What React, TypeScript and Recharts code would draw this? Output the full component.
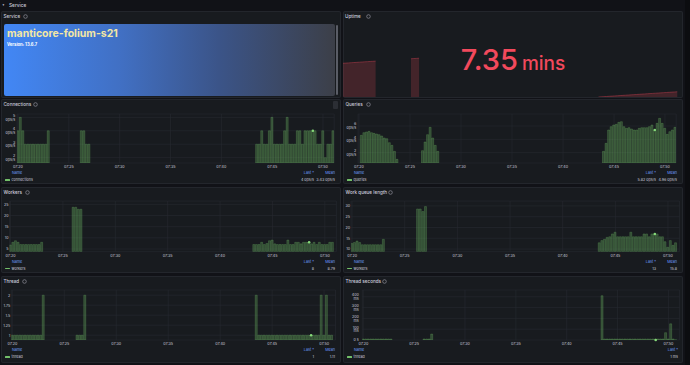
import React from 'react';
import { BarChart, Bar, XAxis, YAxis, CartesianGrid, ReferenceDot, AreaChart, Area } from 'recharts';

// ---------- time grid (minutes after 07:00, 15 s slots) ----------
const SLOT_COUNT = 125;
const FIRST_MINUTE = 20;
const SLOT_MINUTES = 0.25;
const TIME_TICKS = [20, 25, 30, 35, 40, 45, 50];

// ---------- series values (segments: start slot + values) ----------
const connectionsStarts = [0, 25, 94];
const connectionsEarly = [4, 5, 4, 3, 3, 3, 3, 3, 3, 3, 3, 3, 4];
const connectionsMid = [4, 4, 3, 3];
const connectionsLate = [3, 3, 4, 3, 3, 4, 5, 3, 3, 3, 3, 4, 5, 3, 3, 3, 4, 4, 3, 4, 4, 4, 4, 4, 3, 3, 4, 2, 3, 3, 4];

const queriesStarts = [1, 25, 96];
const queriesEarly = [4.6, 5.0, 5.1, 5.2, 5.0, 4.9, 4.8, 4.7, 4.5, 4.2, 4.1, 3.5, 3.1, 2.2, 1.0];
const queriesMid = [2.3, 3.6, 4.7, 5.8, 4.2, 3.1, 2.2];
const queriesLate = [2.2, 3.4, 5.4, 5.9, 6.15, 6.25, 6.55, 6.65, 5.9, 5.65, 5.75, 5.55, 5.4, 5.4, 5.65, 5.75, 5.75, 5.75, 5.9, 6.15, 5.4, 6.4, 7.15, 6.4, 5.65, 4.75, 5.15, 5.4, 5.8];

const workersStarts = [0, 24, 93];
const workersEarly = [6.8, 8, 8.7, 8, 7, 7, 7, 7, 7, 7, 7, 7, 8];
const workersMid = [23.7, 23.7, 22.8, 22.8];
const workersLate = [7, 7, 7, 8, 7, 7.5, 8.7, 9, 7.3, 7, 7, 7, 7, 9, 7, 7, 8, 8, 7.3, 8, 8, 8, 7.3, 8, 7, 8, 7, 7, 7, 8, 8];

const queueStarts = [0, 25, 94];
const queueEarly = [12.6, 13, 13.7, 13, 12, 12, 12, 12, 12, 12, 12, 12, 14.5];
const queueMid = [28.6, 28.6, 27.4, 29.7];
const queueLate = [12.9, 13.9, 14.5, 15.4, 15.7, 17, 17.8, 15.7, 15.7, 15.7, 15.7, 15.7, 17.8, 15.7, 15.7, 15.7, 15.7, 17, 17, 15.7, 17, 17, 17, 15.7, 15.7, 13.4, 10.8, 13.9, 11.7, 12.9];

const threadStarts = [0, 25, 94];
const threadEarly = [1, 1, 1, 1, 1, 1, 1, 1, 1, 1, 1, 1, 2];
const threadMid = [1, 1, 1, 2];
const threadLate = [2, 1, 1, 1, 1, 1, 1, 1, 1, 1, 1, 1, 1, 1, 1, 1, 1, 1, 1, 1, 1, 1, 1, 1, 1, 2, 1, 2, 1, 1];

const threadSecStarts = [0, 24, 94];
const threadSecEarly = [0, 0, 0, 0, 0, 0, 0, 0, 0, 0, 0, 8];
const threadSecMid = [0, 0, 0, 55];
const threadSecLate = [410, 0, 0, 0, 0, 0, 0, 0, 0, 0, 0, 0, 0, 0, 0, 0, 0, 0, 0, 0, 0, 0, 0, 0, 0, 68, 0, 150, 0, 1];

const uptimeStarts = [0, 25, 94];
const uptimeEarly = [2800, 2815, 2830, 2845, 2860, 2875, 2890, 2905, 2920, 2935, 2950, 2965, 2980];
const uptimeMid = [3175, 3190, 3205, 3220];
const uptimeLate = [0, 15, 30, 45, 60, 75, 90, 105, 120, 135, 150, 165, 180, 195, 210, 225, 240, 255, 270, 285, 300, 315, 330, 345, 360, 375, 390, 405, 420, 435];

// ---------- tick labels / legend text ----------
const connectionsTicks = [2, 3, 4, 5];
const queriesTicks = [2, 4, 6];
const workersTicks = [5, 10, 15, 20, 25];
const queueTicks = [10, 15, 20, 25, 30];
const threadTicks = [1, 1.25, 1.5, 1.75, 2];
const threadSecTicks = [0, 100, 200, 300, 400];

const TIMES = Array.from({ length: SLOT_COUNT }, (_, i) => FIRST_MINUTE + i * SLOT_MINUTES);

function place(starts: number[], segments: number[][]): (number | null)[] {
  const out: (number | null)[] = new Array(SLOT_COUNT).fill(null);
  segments.forEach((seg, k) => seg.forEach((v, i) => { out[starts[k] + i] = v; }));
  return out;
}
const rowsOf = (vals: (number | null)[]) => TIMES.map((t, i) => ({ t, v: vals[i] }));

const connections = place(connectionsStarts, [connectionsEarly, connectionsMid, connectionsLate]);
const queries = place(queriesStarts, [queriesEarly, queriesMid, queriesLate]);
const workers = place(workersStarts, [workersEarly, workersMid, workersLate]);
const queue = place(queueStarts, [queueEarly, queueMid, queueLate]);
const thread = place(threadStarts, [threadEarly, threadMid, threadLate]);
const threadSec = place(threadSecStarts, [threadSecEarly, threadSecMid, threadSecLate]);
const uptime = place(uptimeStarts, [uptimeEarly, uptimeMid, uptimeLate]);

// ---------- styles ----------
const FONT = 'Inter, "DejaVu Sans", sans-serif';
const PAGE_BG = '#111217';
const PANEL_BG = '#181b1f';
const TEXT = '#ccccdc';
const BLUE = '#6e9fff';
const GREEN = '#73BF69';
const RED = '#F2495C';
const GRID = '#272a30';
const X_DOMAIN: [number, number] = [19.9, 51.1];

const fmtTime = (m: number) => `07:${String(Math.round(m)).padStart(2, '0')}`;
const ops = (v: number) => `${v} ops/s`;

type TSConfig = {
  title: string;
  iconX: number;
  panel: { x: number; y: number; w: number; h: number };
  plot: { l: number; r: number; t: number; b: number };
  values: (number | null)[];
  yDomain: [number, number];
  yTicks: number[];
  yFmt: (v: number) => string;
  yGap: number;
  marker: number;
  seriesName: string;
  last: string;
  mean?: string;
  zeroDots?: boolean;
  menu?: boolean;
};

const PANELS: TSConfig[] = [
  {
    title: 'Connections', iconX: 34, panel: { x: 1, y: 99, w: 340, h: 85 }, plot: { l: 17, r: 334.2, t: 114, b: 163 },
    values: connections, yDomain: [1.6, 5.25], yTicks: connectionsTicks, yFmt: ops, yGap: 1.8, marker: 116,
    seriesName: 'connections', last: '4 ops/s', mean: '3.43 ops/s', menu: true,
  },
  {
    title: 'Queries', iconX: 25, panel: { x: 343, y: 99, w: 340, h: 85 }, plot: { l: 358, r: 676.2, t: 114, b: 163 },
    values: queries, yDomain: [0.45, 7.8], yTicks: queriesTicks, yFmt: ops, yGap: 1.8, marker: 116,
    seriesName: 'queries', last: '5.82 ops/s', mean: '4.96 ops/s',
  },
  {
    title: 'Workers', iconX: 26, panel: { x: 1, y: 187, w: 340, h: 86 }, plot: { l: 9.45, r: 336.4, t: 201, b: 251.7 },
    values: workers, yDomain: [3.8, 26.5], yTicks: workersTicks, yFmt: (v) => String(v), yGap: 1, marker: 114,
    seriesName: 'workers', last: '8', mean: '8.79',
  },
  {
    title: 'Work queue length', iconX: 47, panel: { x: 343, y: 187, w: 340, h: 86 }, plot: { l: 351, r: 679.6, t: 201, b: 251.7 },
    values: queue, yDomain: [8.75, 32.3], yTicks: queueTicks, yFmt: (v) => String(v), yGap: 1, marker: 115,
    seriesName: 'workers', last: '13', mean: '15.8',
  },
  {
    title: 'Thread', iconX: 23, panel: { x: 1, y: 276, w: 340, h: 87 }, plot: { l: 11.3, r: 335.5, t: 290, b: 340 },
    values: thread, yDomain: [0.88, 2.13], yTicks: threadTicks, yFmt: (v) => String(v), yGap: 1, marker: 115,
    seriesName: 'thread', last: '1', mean: '1.11',
  },
  {
    title: 'Thread seconds', iconX: 41, panel: { x: 343, y: 276, w: 340, h: 87 }, plot: { l: 362.3, r: 679.6, t: 290, b: 340 },
    values: threadSec, yDomain: [0, 463], yTicks: threadSecTicks, yFmt: (v) => (v === 0 ? '0 s' : `${v} ms`), yGap: 3.5, marker: 115,
    seriesName: 'thread', last: '1 ms', zeroDots: true,
  },
];

const panelStyle = (x: number, y: number, w: number, h: number): React.CSSProperties => ({
  position: 'absolute', left: x, top: y, width: w, height: h, background: PANEL_BG,
  boxShadow: 'inset 0 0 0 1px #23262c', borderRadius: 2, overflow: 'hidden',
});

function Label({ x, y, text, size = 3.9, color = TEXT, align = 'left', weight = 400 }: any) {
  const style: React.CSSProperties = {
    position: 'absolute', top: y - size / 2, fontSize: size, lineHeight: `${size}px`, color,
    fontWeight: weight, whiteSpace: 'nowrap', fontFamily: FONT,
  };
  if (align === 'right') style.right = x; else style.left = x;
  return <div style={style}>{text}</div>;
}

function InfoIcon({ x, y }: { x: number; y: number }) {
  return (
    <svg style={{ position: 'absolute', left: x - 2.5, top: y - 2.5 }} width={5} height={5}>
      <circle cx={2.5} cy={2.5} r={1.8} fill="none" stroke="#8e8e9a" strokeWidth={0.7} />
    </svg>
  );
}

function TimeSeriesPanel({ cfg }: { cfg: TSConfig }) {
  const { panel, plot } = cfg;
  const xAxisH = 8;
  const topPad = 2;
  const chartH = plot.b - plot.t + topPad + xAxisH;
  const rows = rowsOf(cfg.values);
  const markerVal = cfg.values[cfg.marker];
  const nameY = plot.b - panel.y + 10;
  const rowY = plot.b - panel.y + 17;
  return (
    <div style={panelStyle(panel.x, panel.y, panel.w, panel.h)}>
      <Label x={2.5} y={5.8} text={cfg.title} size={4.6} weight={500} />
      <InfoIcon x={cfg.iconX} y={5.8} />
      {cfg.menu && (
        <div style={{ position: 'absolute', left: panel.w - 8, top: 1.5, width: 5, height: 8, background: '#2b2e34', borderRadius: 1 }} />
      )}
      <div style={{ position: 'absolute', left: 0, top: plot.t - panel.y - topPad }}>
        <BarChart
          width={panel.w}
          height={chartH}
          data={rows}
          margin={{ top: topPad, right: panel.x + panel.w - plot.r, bottom: 0, left: 0 }}
        >
          <CartesianGrid stroke={GRID} strokeWidth={0.6} />
          <XAxis
            type="number"
            dataKey="t"
            domain={X_DOMAIN}
            allowDataOverflow
            ticks={TIME_TICKS}
            interval={0}
            tickFormatter={fmtTime}
            axisLine={false}
            tickLine={false}
            tickSize={0}
            tickMargin={2.4}
            height={xAxisH}
            tick={{ fontSize: 3.7, fill: TEXT, fontFamily: FONT }}
          />
          <YAxis
            type="number"
            domain={cfg.yDomain}
            allowDataOverflow
            ticks={cfg.yTicks}
            interval={0}
            tickFormatter={cfg.yFmt}
            axisLine={false}
            tickLine={false}
            tickSize={0}
            tickMargin={cfg.yGap}
            width={plot.l - panel.x}
            tick={{ fontSize: 3.7, fill: TEXT, fontFamily: FONT }}
          />
          <Bar
            dataKey="v"
            isAnimationActive={false}
            barSize={2}
            fill={GREEN}
            fillOpacity={0.28}
            stroke={GREEN}
            strokeOpacity={0.5}
            strokeWidth={0.5}
            minPointSize={cfg.zeroDots ? ((v: any) => (v === 0 ? 1 : 0)) as any : 0}
          />
          {markerVal != null && (
            <ReferenceDot x={TIMES[cfg.marker]} y={markerVal} r={1.3} fill="#86d97a" stroke="none" />
          )}
        </BarChart>
      </div>
      {/* legend */}
      <Label x={11} y={nameY} text="Name" size={3.7} color={BLUE} />
      {cfg.mean ? (
        <>
          <Label x={27} y={nameY} text="Last *" size={3.7} color={BLUE} align="right" />
          <Label x={6} y={nameY} text="Mean" size={3.7} color={BLUE} align="right" />
          <Label x={27} y={rowY} text={cfg.last} size={3.7} align="right" />
          <Label x={6} y={rowY} text={cfg.mean} size={3.7} align="right" />
        </>
      ) : (
        <>
          <Label x={5} y={nameY} text="Last *" size={3.7} color={BLUE} align="right" />
          <Label x={5} y={rowY} text={cfg.last} size={3.7} align="right" />
        </>
      )}
      <div style={{ position: 'absolute', left: 4, top: rowY - 0.7, width: 5, height: 1.4, background: GREEN, borderRadius: 0.5 }} />
      <Label x={10.5} y={rowY} text={cfg.seriesName} size={3.7} />
    </div>
  );
}

function UptimePanel() {
  const x = 343, y = 11, w = 340, h = 87;
  const rows = rowsOf(uptime);
  return (
    <div style={panelStyle(x, y, w, h)}>
      <div style={{ position: 'absolute', left: 0, top: 13 }}>
        <AreaChart width={w} height={73} data={rows} margin={{ top: 0, right: 3, bottom: 0, left: 0 }}>
          <XAxis type="number" dataKey="t" domain={[20, 50.75]} hide />
          <YAxis type="number" domain={[0, 6060]} hide />
          <Area
            type="linear"
            dataKey="v"
            isAnimationActive={false}
            stroke={RED}
            strokeOpacity={0.45}
            strokeWidth={0.8}
            fill={RED}
            fillOpacity={0.2}
            dot={false}
            activeDot={false}
          />
        </AreaChart>
      </div>
      <Label x={2} y={5.8} text="Uptime" size={4.6} weight={500} />
      <InfoIcon x={25} y={5.8} />
      <svg style={{ position: 'absolute', left: 0, top: 0 }} width={w} height={h}>
        <text x={170} y={59} textAnchor="middle" fill={RED} fontFamily={FONT} fontWeight={500}>
          <tspan fontSize={29}>7.35</tspan>
          <tspan fontSize={19} dx={4}>mins</tspan>
        </text>
      </svg>
    </div>
  );
}

function ServicePanel() {
  return (
    <div style={panelStyle(1, 11, 340, 87)}>
      <Label x={2.5} y={5.8} text="Service" size={4.6} weight={500} />
      <InfoIcon x={24} y={5.8} />
      <div
        style={{
          position: 'absolute', left: 2.5, top: 12.5, width: 331, height: 72, borderRadius: 2,
          background: 'linear-gradient(90deg, #4287f5 0%, #4170c4 35%, #3b5488 65%, #3c3f48 100%)',
        }}
      >
        <div style={{ position: 'absolute', left: 3.5, top: 4, fontFamily: FONT, fontWeight: 700, fontSize: 10.5, lineHeight: '12px', color: '#f3e7a4', whiteSpace: 'nowrap' }}>
          manticore-folium-s21
        </div>
        <div style={{ position: 'absolute', left: 3.5, top: 18.5, fontFamily: FONT, fontWeight: 700, fontSize: 4.2, lineHeight: '5px', color: '#ffffff', whiteSpace: 'nowrap' }}>
          Version: 13.6.7
        </div>
      </div>
      <div style={{ position: 'absolute', left: 335, top: 14, width: 1.5, height: 70, background: '#5a5d66', borderRadius: 1 }} />
    </div>
  );
}

export default function App() {
  return (
    <div style={{ position: 'fixed', left: 0, top: 0, width: 690, height: 365, background: PAGE_BG, overflow: 'hidden', fontFamily: FONT }}>
      <div style={{ position: 'absolute', left: 2.5, top: 2.5, fontSize: 3.5, color: TEXT, lineHeight: '5px' }}>▾</div>
      <Label x={9} y={5} text="Service" size={4.8} weight={500} />
      <ServicePanel />
      <UptimePanel />
      {PANELS.map((p) => (
        <TimeSeriesPanel key={p.title} cfg={p} />
      ))}
      <div style={{ position: 'absolute', left: 685, top: 0, width: 5, height: 365, background: '#0c0d10' }} />
    </div>
  );
}
